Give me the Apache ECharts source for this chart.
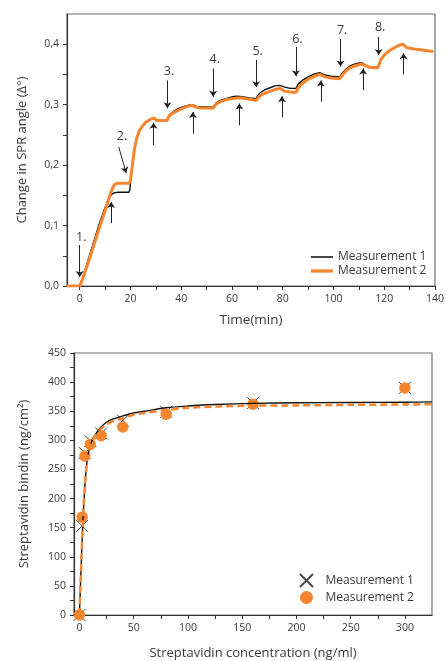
<!DOCTYPE html>
<html>
<head>
<meta charset="utf-8">
<script src="https://cdn.jsdelivr.net/npm/echarts@6/dist/echarts.min.js"></script>
<style>
html,body{margin:0;padding:0;background:#fff;}
#c{width:447px;height:661px;}
</style>
</head>
<body>
<div id="c"></div>
<script>
// ---- Top chart: SPR angle vs time ----
const timeM1 = [-5, 0, 1, 2.5, 5, 7.5, 10, 11.5, 12.5, 13.5, 15, 19.4, 19.8, 20.5, 21.5, 22.5, 23.5, 25, 26, 28, 29.4, 30.2, 34.5, 35.2, 37, 39, 41, 43, 44.5, 46, 52.5, 53.8, 55.5, 57.5, 60, 62, 64, 67, 69.5, 70.3, 71.5, 73, 75, 77, 78.9, 80.8, 83, 85.2, 86.1, 88, 90, 92.5, 94.6, 96.6, 99.2, 102.5, 103.3, 105, 106.5, 108.3, 110, 111.5, 112.5, 114, 116, 117.4, 118, 118.7, 120, 121.3, 123, 125.2, 127.3, 128, 129, 131.8, 135.7, 139.3];
const valM1 = [0, 0, 0.012, 0.032, 0.066, 0.100, 0.130, 0.145, 0.151, 0.154, 0.155, 0.155, 0.160, 0.195, 0.225, 0.245, 0.257, 0.266, 0.271, 0.276, 0.278, 0.274, 0.274, 0.283, 0.289, 0.294, 0.297, 0.299, 0.300, 0.297, 0.296, 0.303, 0.307, 0.310, 0.313, 0.314, 0.313, 0.311, 0.310, 0.316, 0.321, 0.325, 0.328, 0.331, 0.332, 0.329, 0.327, 0.327, 0.334, 0.341, 0.346, 0.351, 0.353, 0.349, 0.347, 0.346, 0.351, 0.359, 0.364, 0.367, 0.369, 0.369, 0.366, 0.363, 0.362, 0.362, 0.366, 0.375, 0.382, 0.387, 0.392, 0.397, 0.400, 0.401, 0.394, 0.392, 0.390, 0.388];
const timeM2 = [-5, 0, 1, 2.5, 5, 7.5, 10, 11.5, 12.5, 13.3, 14, 15, 19.5, 20, 20.8, 21.5, 22.5, 23.5, 25, 26, 28, 29.4, 30.2, 34.5, 35.2, 37, 39, 41, 43, 44.3, 45.5, 47, 52.5, 53.8, 55.5, 57.5, 60, 62, 64, 67, 69.5, 70.3, 71.5, 73, 75, 77, 78.9, 80.8, 83, 85.2, 86.1, 88, 90, 92.5, 94.6, 96.6, 99.2, 102.5, 103.3, 105, 106.5, 108.3, 110, 111.5, 112.5, 114, 116, 117.4, 118, 118.7, 120, 121.3, 123, 125.2, 127.3, 128, 129, 131.8, 135.7, 139.3];
const valM2 = [0, 0, 0.010, 0.028, 0.060, 0.093, 0.124, 0.145, 0.157, 0.165, 0.169, 0.170, 0.170, 0.175, 0.200, 0.225, 0.245, 0.257, 0.266, 0.271, 0.276, 0.278, 0.274, 0.274, 0.281, 0.287, 0.291, 0.295, 0.298, 0.299, 0.296, 0.295, 0.294, 0.301, 0.305, 0.308, 0.310, 0.311, 0.311, 0.309, 0.307, 0.311, 0.316, 0.319, 0.322, 0.325, 0.327, 0.322, 0.321, 0.320, 0.328, 0.336, 0.342, 0.347, 0.350, 0.346, 0.344, 0.343, 0.348, 0.356, 0.361, 0.364, 0.366, 0.367, 0.365, 0.362, 0.361, 0.361, 0.366, 0.375, 0.382, 0.387, 0.392, 0.397, 0.400, 0.400, 0.394, 0.392, 0.390, 0.388];
const timeTicks = [0, 10, 20, 30, 40, 50, 60, 70, 80, 90, 100, 110, 120, 130, 140];
const timeLabels = [0, 20, 40, 60, 80, 100, 120, 140];
const sprTicks = [0, 0.05, 0.1, 0.15, 0.2, 0.25, 0.3, 0.35, 0.4];
const sprLabels = [0, 0.1, 0.2, 0.3, 0.4];
// annotation arrows (data space): [x1, y1, x2, y2]
const downArrows = [[0, 0.068, 0, 0.015], [15.4, 0.230, 18.3, 0.187], [34.6, 0.340, 34.6, 0.294], [52.6, 0.360, 52.6, 0.313], [69.5, 0.374, 69.5, 0.329], [85.2, 0.396, 85.2, 0.347], [102.8, 0.409, 102.8, 0.363], [117.8, 0.412, 117.8, 0.382]];
const upArrows = [[12.4, 0.104, 12.4, 0.139], [29.1, 0.233, 29.1, 0.270], [44.6, 0.252, 44.6, 0.288], [62.9, 0.266, 62.9, 0.302], [79.7, 0.279, 79.7, 0.314], [95, 0.305, 95, 0.340], [111.7, 0.324, 111.7, 0.360], [127.6, 0.350, 127.6, 0.385]];
const stepLabels = [[0.6, 0.080, '1.'], [16.7, 0.248, '2.'], [35.2, 0.355, '3.'], [53.2, 0.375, '4.'], [70.1, 0.388, '5.'], [85.8, 0.408, '6.'], [103.4, 0.423, '7.'], [118.4, 0.427, '8.']];

// ---- Bottom chart: binding vs concentration ----
const conc = [0, 2.5, 5, 10, 20, 40, 80, 160, 300];
const bindM1 = [0, 153, 278, 299, 312, 334, 349, 364, 390];
const bindM2 = [0, 168, 273, 293, 308, 323, 345, 362, 390];
const fitConc = [0, 1, 2, 3, 4, 5, 6, 7.5, 10, 12.5, 15, 20, 25, 30, 40, 50, 60, 80, 100, 125, 160, 200, 250, 300, 325];
const fitM1 = [0, 52, 103, 152, 190, 220, 245, 270, 291, 303, 311, 323, 331, 336, 342, 347, 350, 356, 359, 361.5, 363.5, 364.5, 365, 365.5, 366];
const fitM2 = [0, 52, 103, 152, 190, 220, 245, 270, 290, 301, 309, 320, 327, 332, 338, 344, 347, 352, 356, 358, 359.5, 360, 361, 361.5, 362];
const concTicks = [0, 25, 50, 75, 100, 125, 150, 175, 200, 225, 250, 275, 300];
const concLabels = [0, 50, 100, 150, 200, 250, 300];
const bindTicks = [0, 25, 50, 75, 100, 125, 150, 175, 200, 225, 250, 275, 300, 325, 350, 375, 400, 425, 450];
const bindLabels = [0, 50, 100, 150, 200, 250, 300, 350, 400, 450];

const FONT = 'Open Sans';
const TXT = '#3a3a3a';
const ORANGE = '#F5862F';
const pairs = (xs, ys) => xs.map((x, i) => [x, ys[i]]);

const axisCommon = {
  axisLine: { show: true, onZero: false, lineStyle: { color: '#333', width: 1.2 } },
  splitLine: { show: false },
  nameLocation: 'middle',
  nameTextStyle: { fontFamily: FONT, fontSize: 13, color: TXT }
};

const arrowLines = downArrows.concat(upArrows).map(a => [{ coord: [a[0], a[1]] }, { coord: [a[2], a[3]] }]);

const option = {
  animation: false,
  grid: [
    { left: 67, top: 14, width: 371, height: 272, show: true, borderColor: '#707070', borderWidth: 1.2 },
    { left: 74, top: 353, width: 358, height: 262, show: true, borderColor: '#707070', borderWidth: 1.2 }
  ],
  xAxis: [
    Object.assign({}, axisCommon, {
      type: 'value', gridIndex: 0, min: -5, max: 140,
      name: 'Time(min)', nameGap: 27, nameTextStyle: { fontFamily: FONT, fontSize: 13.5, color: TXT },
      axisTick: { show: true, length: 4, customValues: timeTicks, lineStyle: { color: '#333' } },
      axisLabel: { customValues: timeLabels, fontFamily: FONT, fontSize: 10.5, color: TXT, margin: 8 }
    }),
    Object.assign({}, axisCommon, {
      type: 'value', gridIndex: 1, min: -5, max: 325,
      name: 'Streptavidin concentration (ng/ml)', nameGap: 32,
      axisTick: { show: true, length: 4, customValues: concTicks, lineStyle: { color: '#333' } },
      axisLabel: { customValues: concLabels, fontFamily: FONT, fontSize: 10.5, color: TXT, margin: 8 }
    })
  ],
  yAxis: [
    Object.assign({}, axisCommon, {
      type: 'value', gridIndex: 0, min: 0, max: 0.45,
      name: 'Change in SPR angle (Δ°)', nameGap: 38,
      axisTick: { show: true, length: 4, customValues: sprTicks, lineStyle: { color: '#333' } },
      axisLabel: { customValues: sprLabels, fontFamily: FONT, fontSize: 10.5, color: TXT, margin: 8,
        formatter: v => Number(v).toFixed(1).replace('.', ',') }
    }),
    Object.assign({}, axisCommon, {
      type: 'value', gridIndex: 1, min: 0, max: 450,
      name: 'Streptavidin bindin (ng/cm²)', nameGap: 43,
      axisTick: { show: true, length: 4, customValues: bindTicks, lineStyle: { color: '#333' } },
      axisLabel: { customValues: bindLabels, fontFamily: FONT, fontSize: 10.5, color: TXT, margin: 8 }
    })
  ],
  legend: [
    {
      data: [
        { name: 'Measurement 1', icon: 'path://M0,0H20V1.4H0Z', itemStyle: { color: '#111' } },
        { name: 'Measurement 2', icon: 'path://M0,0H20V3H0Z', itemStyle: { color: ORANGE } }
      ],
      orient: 'vertical', left: 306, top: 246,
      itemWidth: 22, itemHeight: 10, itemGap: 2,
      textStyle: { fontFamily: FONT, fontSize: 12, color: TXT }
    },
    {
      data: ['Measurement 1 (binding)', 'Measurement 2 (binding)'], orient: 'vertical', left: 294, top: 568,
      itemWidth: 16, itemHeight: 13, itemGap: 3,
      formatter: n => n.replace(' (binding)', ''),
      textStyle: { fontFamily: FONT, fontSize: 12, color: TXT, padding: [0, 0, 0, 6] }
    }
  ],
  series: [
    {
      name: 'Measurement 1', type: 'line', xAxisIndex: 0, yAxisIndex: 0,
      data: pairs(timeM1, valM1), showSymbol: false, symbol: 'none',
      lineStyle: { color: '#111', width: 1.4 }, itemStyle: { color: '#111' }
    },
    {
      name: 'Measurement 2', type: 'line', xAxisIndex: 0, yAxisIndex: 0,
      data: pairs(timeM2, valM2), showSymbol: false, symbol: 'none',
      lineStyle: { color: ORANGE, width: 3 }, itemStyle: { color: ORANGE },
      markLine: {
        silent: true, symbol: ['none', 'arrow'], symbolSize: 6,
        lineStyle: { color: '#222', width: 1, type: 'solid' },
        label: { show: false },
        data: arrowLines
      },
      markPoint: {
        silent: true, symbol: 'circle', symbolSize: 1,
        itemStyle: { color: 'transparent' },
        label: { show: true, position: 'inside', fontFamily: FONT, fontSize: 12.5, color: TXT, formatter: p => p.name },
        data: stepLabels.map(s => ({ coord: [s[0], s[1]], name: s[2] }))
      }
    },
    {
      name: 'fit 1', type: 'line', xAxisIndex: 1, yAxisIndex: 1,
      data: pairs(fitConc, fitM1), showSymbol: false, symbol: 'none', smooth: 0.3,
      lineStyle: { color: '#111', width: 1.4 }
    },
    {
      name: 'fit 2', type: 'line', xAxisIndex: 1, yAxisIndex: 1,
      data: pairs(fitConc, fitM2), showSymbol: false, symbol: 'none', smooth: 0.3,
      lineStyle: { color: ORANGE, width: 2.5, type: [7, 4] }
    },
    {
      name: 'Measurement 1 (binding)', type: 'scatter', xAxisIndex: 1, yAxisIndex: 1,
      data: pairs(conc, bindM1), symbol: 'path://M0,0L10,10M10,0L0,10', symbolSize: 12,
      itemStyle: { color: 'transparent', borderColor: '#1a1a1a', borderWidth: 1 }
    },
    {
      name: 'Measurement 2 (binding)', type: 'scatter', xAxisIndex: 1, yAxisIndex: 1,
      data: pairs(conc, bindM2), symbol: 'circle', symbolSize: 11.5,
      itemStyle: { color: ORANGE, opacity: 1 }
    }
  ]
};

const chart = echarts.init(document.getElementById('c'), null, { renderer: 'canvas' });
chart.setOption(option);
</script>
</body>
</html>
